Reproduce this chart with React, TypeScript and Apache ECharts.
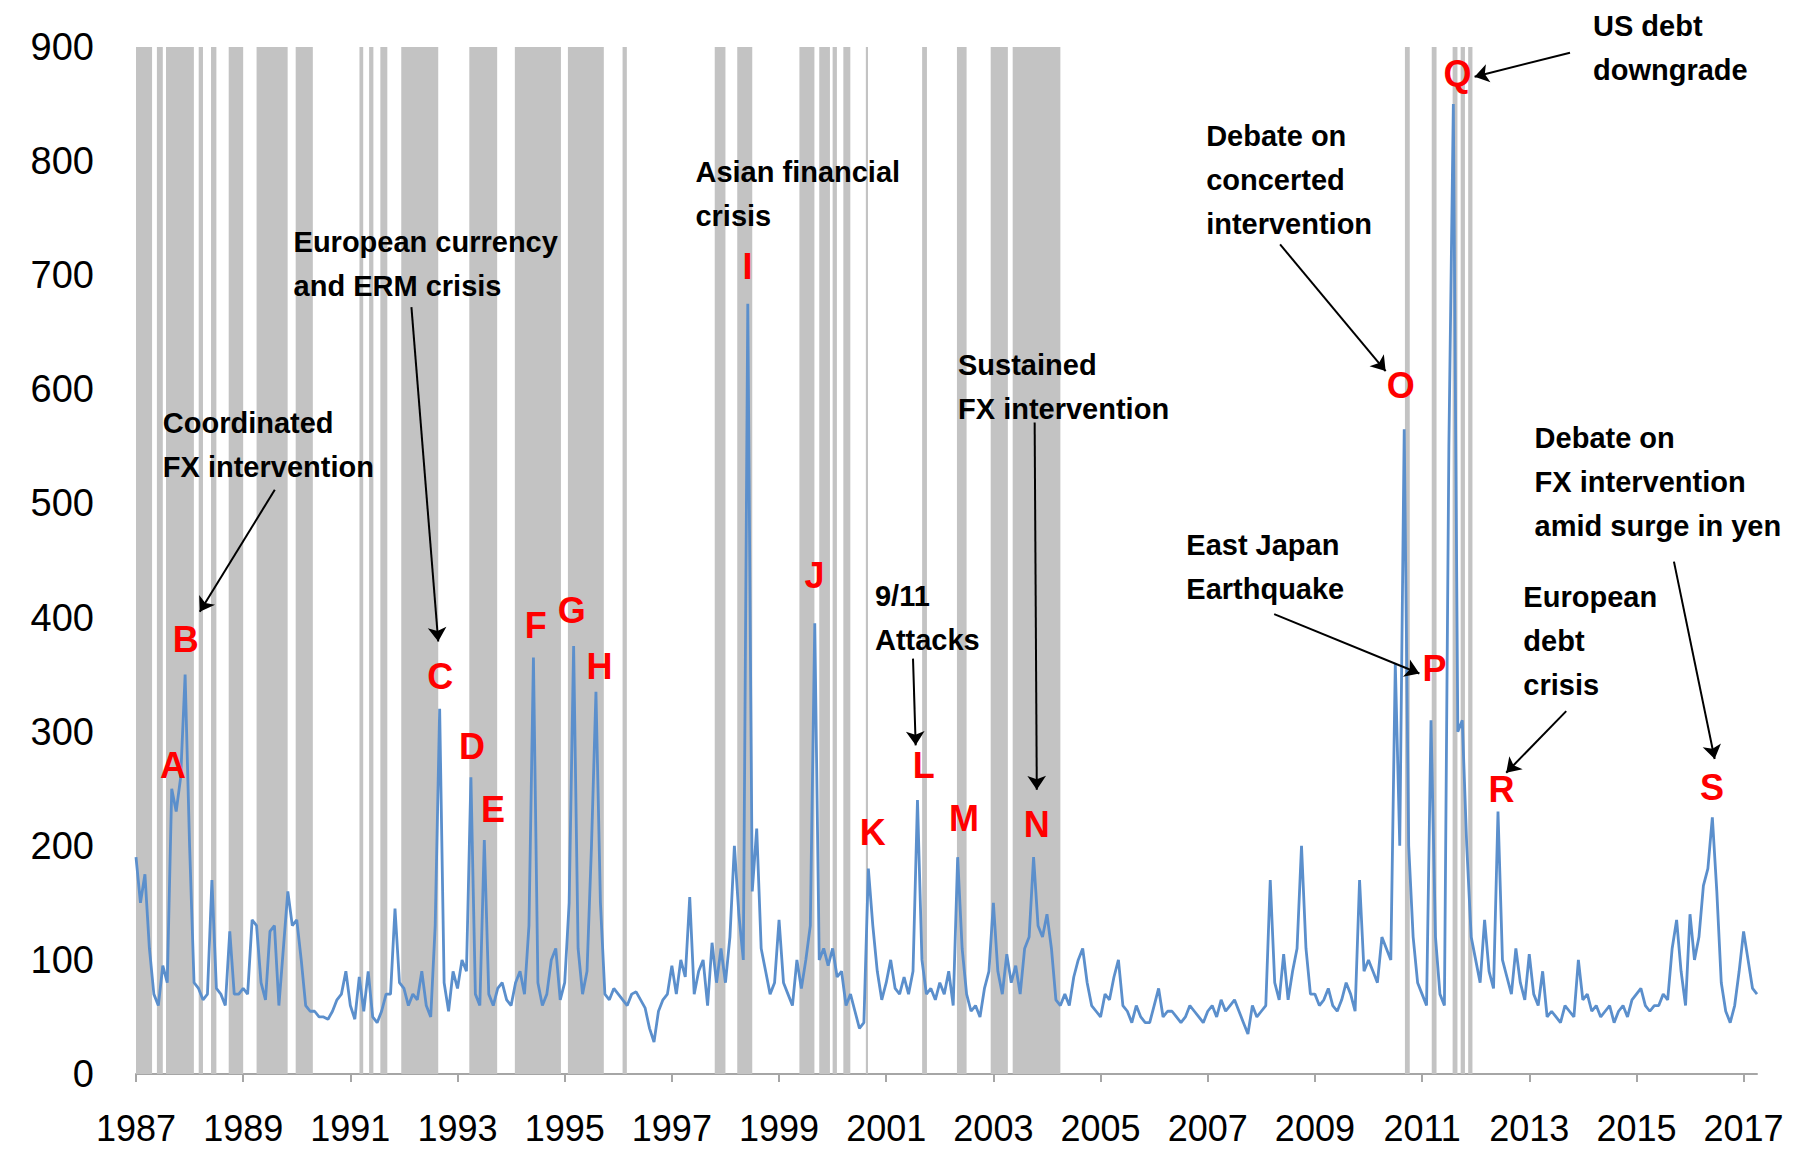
import { useEffect, useRef } from 'react';
import * as echarts from 'echarts';

// monthly index values, one row per year starting Jan 1987
const values1987 = [190, 150, 175, 110, 70, 60, 95, 80, 250, 230, 260, 350];
const values1988 = [200, 80, 75, 65, 70, 170, 75, 70, 60, 125, 70, 70];
const values1989 = [75, 70, 135, 130, 80, 65, 125, 130, 60, 110, 160, 130];
const values1990 = [135, 100, 60, 55, 55, 50, 50, 48, 55, 65, 70, 90];
const values1991 = [60, 48, 85, 55, 90, 50, 45, 55, 70, 70, 145, 80];
const values1992 = [75, 60, 70, 65, 90, 60, 50, 130, 320, 80, 55, 90];
const values1993 = [75, 100, 90, 260, 70, 60, 205, 70, 60, 75, 80, 65];
const values1994 = [60, 80, 90, 70, 130, 365, 80, 60, 70, 100, 110, 65];
const values1995 = [80, 150, 375, 110, 70, 90, 200, 335, 150, 70, 65, 75];
const values1996 = [70, 65, 60, 70, 72, 65, 58, 40, 28, 55, 65, 70];
const values1997 = [95, 70, 100, 85, 155, 70, 90, 100, 60, 115, 80, 110];
const values1998 = [80, 120, 200, 140, 100, 675, 160, 215, 110, 90, 70, 80];
const values1999 = [135, 80, 70, 60, 100, 75, 100, 130, 395, 100, 110, 95];
const values2000 = [110, 85, 90, 60, 70, 55, 40, 45, 180, 130, 90, 65];
const values2001 = [80, 100, 75, 70, 85, 70, 90, 240, 100, 70, 75, 65];
const values2002 = [80, 70, 90, 60, 190, 110, 70, 55, 60, 50, 75, 90];
const values2003 = [150, 90, 70, 105, 80, 95, 70, 110, 120, 190, 130, 120];
const values2004 = [140, 110, 65, 60, 70, 60, 85, 100, 110, 80, 60, 55];
const values2005 = [50, 70, 65, 85, 100, 60, 55, 45, 60, 50, 45, 45];
const values2006 = [60, 75, 50, 55, 55, 50, 45, 50, 60, 55, 50, 45];
const values2007 = [55, 60, 50, 65, 55, 60, 65, 55, 45, 35, 60, 50];
const values2008 = [55, 60, 170, 80, 65, 105, 65, 90, 110, 200, 110, 70];
const values2009 = [70, 60, 65, 75, 60, 55, 65, 80, 70, 55, 170, 90];
const values2010 = [100, 90, 80, 120, 110, 100, 360, 200, 565, 200, 120, 80];
const values2011 = [70, 60, 310, 120, 70, 60, 550, 850, 300, 310, 200, 120];
const values2012 = [100, 80, 135, 90, 75, 230, 100, 85, 70, 110, 80, 65];
const values2013 = [105, 70, 60, 90, 50, 55, 50, 45, 60, 55, 50, 100];
const values2014 = [65, 70, 55, 60, 50, 55, 60, 45, 55, 60, 50, 65];
const values2015 = [70, 75, 60, 55, 60, 60, 70, 65, 110, 135, 90, 60];
const values2016 = [140, 100, 120, 165, 180, 225, 160, 80, 55, 45, 60, 90];
const values2017 = [125, 100, 75, 70];

const yearRows = [
  values1987, values1988, values1989, values1990, values1991, values1992, values1993,
  values1994, values1995, values1996, values1997, values1998, values1999, values2000,
  values2001, values2002, values2003, values2004, values2005, values2006, values2007,
  values2008, values2009, values2010, values2011, values2012, values2013, values2014,
  values2015, values2016, values2017,
];

// intervention periods (shaded), in fractional years
const interventionPeriods: [number, number][] = [
  [1987.0, 1987.3], [1987.39, 1987.5], [1987.56, 1988.08], [1988.17, 1988.25],
  [1988.4, 1988.5], [1988.73, 1989.0], [1989.25, 1989.83], [1989.98, 1990.3],
  [1991.17, 1991.24], [1991.35, 1991.43], [1991.56, 1991.69], [1991.95, 1992.64],
  [1993.22, 1993.74], [1994.07, 1994.93], [1995.06, 1995.73], [1996.08, 1996.16],
  [1997.8, 1998.0], [1998.22, 1998.5], [1999.38, 1999.66], [1999.75, 1999.95],
  [2000.0, 2000.08], [2000.2, 2000.33], [2000.62, 2000.66], [2001.67, 2001.76],
  [2002.32, 2002.5], [2002.95, 2003.27], [2003.36, 2004.25], [2010.68, 2010.77],
  [2011.18, 2011.27], [2011.57, 2011.66], [2011.72, 2011.8], [2011.86, 2011.94],
];

// event letters [label, year, value]
const eventLetters: [string, number, number][] = [
  ['A', 1987.69, 270], ['B', 1987.93, 381], ['C', 1992.68, 348], ['D', 1993.27, 287],
  ['E', 1993.66, 232], ['F', 1994.46, 393], ['G', 1995.13, 406], ['H', 1995.65, 357],
  ['I', 1998.41, 708], ['J', 1999.66, 437], ['K', 2000.75, 212], ['L', 2001.7, 270],
  ['M', 2002.45, 224], ['N', 2003.81, 219], ['O', 2010.6, 603], ['P', 2011.23, 355],
  ['Q', 2011.66, 877], ['R', 2012.48, 249], ['S', 2016.41, 251],
];

// annotation texts [text, year, value] (top-left anchor)
const notes: [string, number, number][] = [
  ['Coordinated\nFX intervention', 1987.5, 590],
  ['European currency\nand ERM crisis', 1989.94, 748],
  ['Asian financial\ncrisis', 1997.44, 810],
  ['9/11\nAttacks', 2000.79, 438],
  ['Sustained\nFX intervention', 2002.34, 641],
  ['Debate on\nconcerted\nintervention', 2006.97, 841],
  ['East Japan\nEarthquake', 2006.6, 483],
  ['US debt\ndowngrade', 2014.19, 938],
  ['Debate on\nFX intervention\namid surge in yen', 2013.1, 577],
  ['European\ndebt\ncrisis', 2012.89, 437],
];

// arrows [fromYear, fromValue, toYear, toValue]
const arrows: [number, number, number, number][] = [
  [1989.59, 512, 1988.19, 405],
  [1992.14, 672, 1992.64, 379],
  [2001.5, 364, 2001.55, 288],
  [2003.77, 571, 2003.81, 249],
  [2008.35, 727, 2010.32, 616],
  [2008.24, 403, 2010.95, 351],
  [2013.76, 895, 2011.98, 874],
  [2013.69, 318, 2012.57, 264],
  [2015.7, 449, 2016.46, 276],
];

const FONT = "'Liberation Sans Narrow', 'Liberation Sans', sans-serif";

export default function App() {
  const ref = useRef<HTMLDivElement>(null);

  useEffect(() => {
    document.body.style.margin = '0';
    if (!ref.current) return;
    const chart = echarts.init(ref.current, undefined, { renderer: 'svg' });
    const data: [number, number][] = [];
    yearRows.forEach((row, y) => row.forEach((v, m) => data.push([1987 + y + m / 12, v])));

    chart.setOption({
      animation: false,
      grid: { left: 136, right: 60, top: 47, bottom: 77 },
      xAxis: {
        type: 'value', min: 1987, max: 2017.25, interval: 2,
        splitLine: { show: false },
        axisLine: { lineStyle: { color: '#a6a6a6', width: 2 } },
        axisTick: { lineStyle: { color: '#a6a6a6', width: 2 }, length: 8 },
        axisLabel: {
          color: '#000', fontSize: 36, fontFamily: FONT, margin: 36, showMaxLabel: false,
          formatter: (v: number) => (Number.isInteger(v) ? String(v) : ''),
        },
      },
      yAxis: {
        type: 'value', min: 0, max: 900, interval: 100,
        splitLine: { show: false }, axisLine: { show: false }, axisTick: { show: false },
        axisLabel: { color: '#000', fontSize: 38, fontFamily: FONT, margin: 42 },
      },
      series: [{
        type: 'line', data, symbol: 'none',
        lineStyle: { color: '#5b8fcc', width: 2.8 },
        markArea: {
          silent: true,
          itemStyle: { color: '#c3c3c3' },
          data: interventionPeriods.map(([a, b]) => [{ xAxis: a }, { xAxis: b }]),
        },
        markLine: {
          silent: true, symbol: ['none', 'arrow'], symbolSize: 14,
          label: { show: false },
          lineStyle: { color: '#000', width: 2, type: 'solid' },
          data: arrows.map(([x1, y1, x2, y2]) => [{ coord: [x1, y1] }, { coord: [x2, y2] }]),
        },
      }],
    });

    const graphic: any[] = [];
    eventLetters.forEach(([t, x, y]) => {
      const [px, py] = chart.convertToPixel({ gridIndex: 0 }, [x, y]);
      graphic.push({
        type: 'text', x: px, y: py, z: 100,
        style: { text: t, fill: '#ff0000', font: `bold 36px ${FONT}`, align: 'center', verticalAlign: 'middle' },
      });
    });
    notes.forEach(([t, x, y]) => {
      const [px, py] = chart.convertToPixel({ gridIndex: 0 }, [x, y]);
      graphic.push({
        type: 'text', x: px, y: py, z: 100,
        style: { text: t, fill: '#000', font: `bold 29px ${FONT}`, lineHeight: 44, align: 'left', verticalAlign: 'top' },
      });
    });
    chart.setOption({ graphic });

    return () => chart.dispose();
  }, []);

  return <div ref={ref} style={{ width: 1817, height: 1151 }} />;
}
